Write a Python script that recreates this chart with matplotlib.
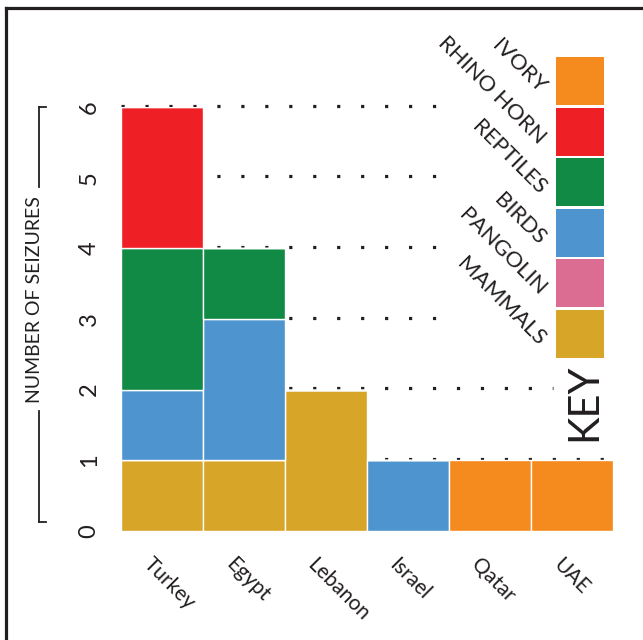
import matplotlib
matplotlib.use("Agg")
import matplotlib.pyplot as plt
from matplotlib.patches import Rectangle
from matplotlib.lines import Line2D
import matplotlib.transforms as mtransforms
import numpy as np

countries = ["Turkey", "Egypt", "Lebanon", "Israel", "Qatar", "UAE"]
# stacking order bottom -> top
categories = ["MAMMALS", "PANGOLIN", "BIRDS", "REPTILES", "RHINO HORN", "IVORY"]
mammals = [1, 1, 2, 0, 0, 0]
pangolin = [0, 0, 0, 0, 0, 0]
birds = [1, 2, 0, 1, 0, 0]
reptiles = [2, 1, 0, 0, 0, 0]
rhino_horn = [2, 0, 0, 0, 0, 0]
ivory = [0, 0, 0, 0, 1, 1]
series = [mammals, pangolin, birds, reptiles, rhino_horn, ivory]
colors = ["#D7A527", "#DB6D92", "#4E94CF", "#108A44", "#EE1F25", "#F58A1F"]
yticks = [0, 1, 2, 3, 4, 5, 6]
# dotted guide lines: value -> right end (in bar units)
grid_vals = [1, 2, 3, 4, 5, 6]
grid_ends = [5.5, 4.77, 3.45, 3.45, 3.45, 3.45]

FONT = "Lato"
plt.rcParams["font.family"] = [FONT, "DejaVu Sans"]
TXT = "#231F20"

W, H = 643, 640
fig = plt.figure(figsize=(W / 100, H / 100), dpi=100)

def fx(px):
    return px / W

def fy(py):
    return 1 - py / H

ax = fig.add_axes([fx(121), fy(531), fx(613) - fx(121), (531 - 107) / H])
x = np.arange(len(countries))

# guide lines sit a hair above the bar tops
lift = ax.transData + mtransforms.ScaledTranslation(0, 1.5 / 100, fig.dpi_scale_trans)
for v, xe in zip(grid_vals, grid_ends):
    ax.plot([-0.5, xe], [v, v], color=TXT, lw=2.3, transform=lift,
            linestyle=(0, (1, 6.5)), dash_capstyle="butt", zorder=1, clip_on=False)

bottom = np.zeros(len(countries))
for vals, c in zip(series, colors):
    vals = np.array(vals, dtype=float)
    ax.bar(x, vals, width=1.0, bottom=bottom, color=c, edgecolor="white",
           linewidth=1.0, zorder=2)
    bottom += vals

ax.set_xlim(-0.5, 5.5)
ax.set_ylim(0, 6)
for s in ax.spines.values():
    s.set_visible(False)
ax.set_xticks([])
ax.set_yticks(yticks)
ax.set_yticklabels([str(t) for t in yticks], rotation=90, fontsize=17,
                   va="center", ha="center", color=TXT)
ax.tick_params(axis="y", length=0, pad=23)
ax.patch.set_alpha(0)

# x labels rotated
trans = mtransforms.blended_transform_factory(ax.transData, ax.transAxes)
for i, name in enumerate(countries):
    ax.text(i - 0.1, -0.055, name, transform=trans, rotation=-45,
            rotation_mode="anchor", ha="left", va="top", fontsize=15,
            color=TXT)

# y label with bracket lines
fig.text(fx(35), fy(300), "NUMBER OF SEIZURES", rotation=90, ha="center",
         va="center", fontsize=14, color=TXT)
fig.add_artist(Line2D([fx(39), fx(39)], [fy(107), fy(187)], color=TXT, lw=1.3, transform=fig.transFigure))
fig.add_artist(Line2D([fx(39), fx(46)], [fy(107), fy(107)], color=TXT, lw=1.3, transform=fig.transFigure))
fig.add_artist(Line2D([fx(39), fx(39)], [fy(411), fy(522)], color=TXT, lw=1.3, transform=fig.transFigure))
fig.add_artist(Line2D([fx(39), fx(46)], [fy(522), fy(522)], color=TXT, lw=1.3, transform=fig.transFigure))

# key
key_order = list(reversed(categories))  # top -> bottom
key_colors = list(reversed(colors))
top0 = 57
step = 50.6
for k, (lab, c) in enumerate(zip(key_order, key_colors)):
    t = top0 + k * step
    fig.add_artist(Rectangle((fx(556), fy(t + 48)), fx(604) - fx(556), 48 / H,
                             facecolor=c, edgecolor="none", transform=fig.transFigure))
    fig.text(fx(538), fy(t + 37), lab, rotation=-45, rotation_mode="anchor",
             ha="right", va="baseline", fontsize=16, color=TXT)
fig.text(fx(584), fy(402), "KEY", rotation=90, ha="center", va="center",
         fontsize=30, color=TXT)

# frame (left and top)
fig.add_artist(Line2D([fx(6), fx(6)], [fy(8), 0], color=TXT, lw=2.3, transform=fig.transFigure))
fig.add_artist(Line2D([fx(6), 1], [fy(8), fy(8)], color=TXT, lw=2.3, transform=fig.transFigure))

fig.savefig("out.png", dpi=100, facecolor="white")
